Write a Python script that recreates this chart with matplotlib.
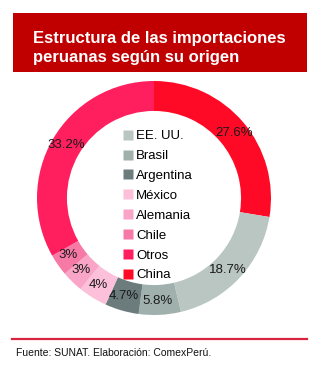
import matplotlib
matplotlib.use("Agg")
import matplotlib.pyplot as plt
import numpy as np
from matplotlib.patches import Rectangle
from matplotlib.lines import Line2D

# ---- data ----
title_lines = ["Estructura de las importaciones", "peruanas según su origen"]
countries = ["China", "EE. UU.", "Brasil", "Argentina", "México", "Alemania", "Chile", "Otros"]
shares = [27.6, 18.7, 5.8, 4.7, 4.0, 3.0, 3.0, 33.2]
share_labels = ["27.6%", "18.7%", "5.8%", "4.7%", "4%", "3%", "3%", "33.2%"]
colors = ["#FF0A26", "#B9C6C2", "#A0B1AD", "#6C7C7D", "#FDC0DA", "#F9A5C7", "#F77AA6", "#FF1F5E"]
legend_order = ["EE. UU.", "Brasil", "Argentina", "México", "Alemania", "Chile", "Otros", "China"]
footer = "Fuente: SUNAT. Elaboración: ComexPerú."

W, H = 323, 374
DPI = 100
plt.rcParams['font.family'] = ['Liberation Sans', 'DejaVu Sans']
fig = plt.figure(figsize=(W / DPI, H / DPI), dpi=DPI)
fig.patch.set_facecolor("white")

def fx(px):
    return px / W

def fy(py):
    return 1 - py / H

# title box
fig.patches.append(Rectangle((fx(13), fy(72)), fx(307) - fx(13), fy(13) - fy(72),
                             transform=fig.transFigure, facecolor="#C00000",
                             edgecolor="none", zorder=0))
fig.text(fx(33), fy(43), title_lines[0], color="white", fontsize=12,
         fontweight="bold", ha="left", va="baseline")
fig.text(fx(33), fy(62), title_lines[1], color="white", fontsize=12,
         fontweight="bold", ha="left", va="baseline")

# donut
cx, cy, R = 154, 198, 117
ax = fig.add_axes([fx(cx - R), fy(cy + R), fx(2 * R), fy(cy - R) - fy(cy + R)])
wedges, _ = ax.pie(shares, colors=colors, startangle=90, counterclock=False,
                   radius=1.0, wedgeprops=dict(width=0.256, edgecolor="none"))
ax.set_xlim(-1, 1)
ax.set_ylim(-1, 1)
ax.set_aspect("auto")
ax.axis("off")

for w, lab in zip(wedges, share_labels):
    ang = np.deg2rad((w.theta1 + w.theta2) / 2 - 1.0)
    r = 0.88
    ax.text(r * np.cos(ang), r * np.sin(ang), lab, ha="center", va="center",
            fontsize=9.5, color="#1a1a1a")

# legend
color_of = dict(zip(countries, colors))
handles = [Line2D([], [], marker="s", linestyle="none", markersize=6.5,
                  markerfacecolor=color_of[c], markeredgecolor="none") for c in legend_order]
leg = fig.legend(handles, legend_order, loc="upper left",
                 bbox_to_anchor=(fx(123), fy(130)), frameon=False, fontsize=9.5,
                 handlelength=0.7, handletextpad=0.3, labelspacing=0.58,
                 borderpad=0, borderaxespad=0)

# bottom rule and footer
fig.add_artist(Line2D([fx(12), fx(307)], [fy(339), fy(339)], transform=fig.transFigure,
                      color="#D8243E", linewidth=1.6))
fig.text(fx(16), fy(353), footer, fontsize=7.5, color="#111111", ha="left", va="center")

fig.savefig("out.png", dpi=DPI)
